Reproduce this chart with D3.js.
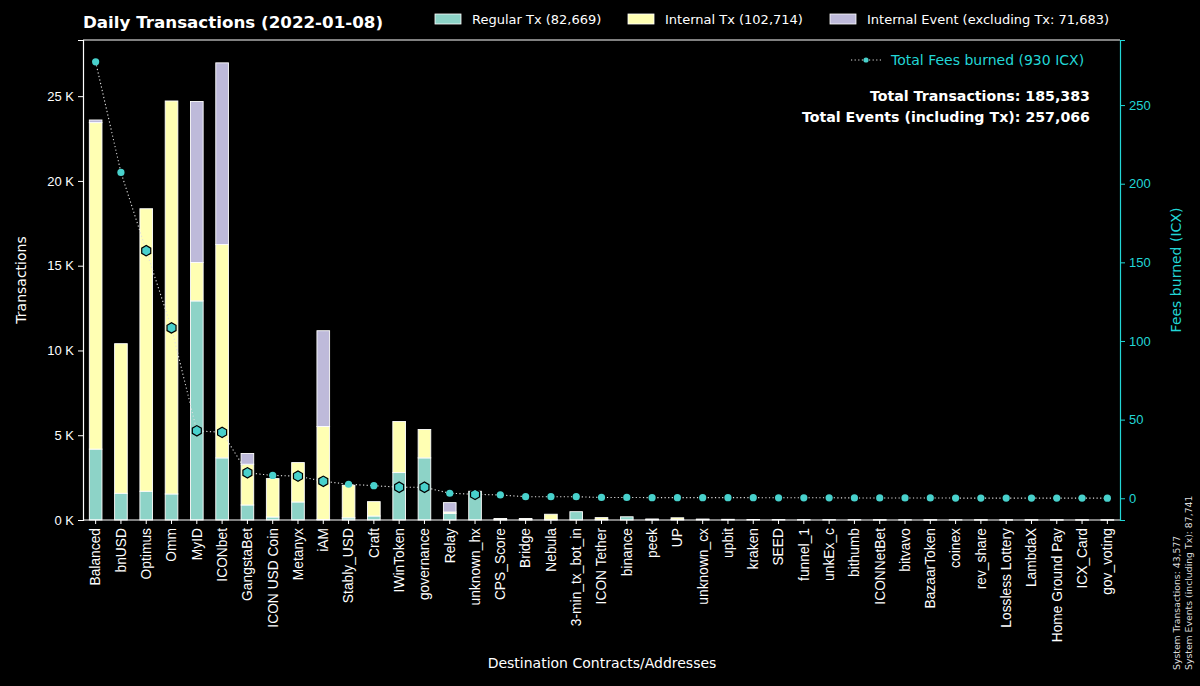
<!DOCTYPE html>
<html><head><meta charset="utf-8">
<script src="https://cdn.jsdelivr.net/npm/d3@7"></script>
<style>
html,body{margin:0;padding:0;background:#000;}
svg{display:block;font-family:"DejaVu Sans",sans-serif;}
</style></head>
<body>
<svg id="chart" width="1200" height="686"></svg>
<script>
const categories = ["Balanced","bnUSD","Optimus","Omm","MyID","ICONbet","GangstaBet","ICON USD Coin","Metanyx","iAM","Stably_USD","Craft","IWinToken","governance","Relay","unknown_hx","CPS_Score","Bridge","Nebula","3-min_tx_bot_in","ICON Tether","binance","peek","UP","unknown_cx","upbit","kraken","SEED","funnel_1","unkEx_c","bithumb","ICONNetBet","bitvavo","BazaarToken","coinex","rev_share","Lossless Lottery","LambdaX","Home Ground Pay","ICX_Card","gov_voting"];
const regularTx = [4180,1576,1695,1536,12923,3664,886,177,1064,30,130,236,2797,3664,394,1695,20,20,20,490,30,190,20,30,40,40,30,25,20,20,18,5,15,5,12,2,2,2,2,2,2];
const internalTx = [19260,8824,16665,23180,2265,12586,2404,2265,2323,5485,1920,847,3013,1673,80,0,70,70,320,0,110,0,40,100,10,0,0,0,0,0,0,10,0,8,0,10,8,8,6,5,4];
const internalEvent = [155,0,0,0,9495,10715,630,0,0,5650,0,0,0,0,550,0,0,0,0,0,0,0,0,0,0,0,0,0,0,0,0,0,0,0,0,0,0,0,0,0,0];
const feesBurned = [277.5,207.2,157.4,108.3,42.9,41.9,16.2,14.5,14.1,10.8,8.9,8.0,7.0,7.0,3.2,2.5,2.1,1.0,1.0,1.0,0.5,0.5,0.4,0.4,0.4,0.4,0.4,0.3,0.3,0.3,0.2,0.2,0.2,0.2,0.1,0.1,0.1,0.1,0.1,0.1,0.05];
const leftTicks = [0,5000,10000,15000,20000,25000];
const rightTicks = [0,50,100,150,200,250];
const legendLabels = ["Regular Tx (82,669)","Internal Tx (102,714)","Internal Event (excluding Tx: 71,683)"];
const titleText = "Daily Transactions (2022-01-08)";
const feeLegendText = "Total Fees burned (930 ICX)";
const totalsText = ["Total Transactions: 185,383","Total Events (including Tx): 257,066"];
const systemText = ["System Transactions: 43,577","System Events (including Tx): 87,741"];

const colors = ["#8dd3c7","#ffffb3","#bebada"];
const feeColor = "#48d1cc";
const axisCyan = "#22d6d6";

const svg = d3.select("#chart");
svg.append("rect").attr("width",1200).attr("height",686).attr("fill","#000");

const L=83, R=1120, T=40, B=520;

const x = d3.scaleBand().domain(categories).range([L,R]).paddingInner(0.5).paddingOuter(0.25);
const rows = categories.map((c,i)=>({cat:c, reg:regularTx[i], itx:internalTx[i], ev:internalEvent[i], fee:feesBurned[i]}));
const maxTotal = d3.max(rows, d=>d.reg+d.itx+d.ev);
const y = d3.scaleLinear().domain([0, maxTotal*1.05]).range([B,T]);
const fMax = d3.max(feesBurned), fMin = d3.min(feesBurned);
const fPad = (fMax - fMin)*0.05;
const y2 = d3.scaleLinear().domain([fMin - fPad, fMax + fPad]).range([B,T]);

// stacked bars
const stack = d3.stack().keys(["reg","itx","ev"])(rows);
const gBars = svg.append("g");
stack.forEach((layer,li)=>{
  gBars.selectAll(null).data(layer).enter().append("rect")
    .attr("x", d=>x(d.data.cat))
    .attr("width", x.bandwidth())
    .attr("y", d=>y(d[1]))
    .attr("height", d=>Math.max(0, y(d[0])-y(d[1])))
    .attr("fill", colors[li])
    .attr("stroke", "#fff")
    .attr("stroke-width", d=> (d[1]-d[0])>0 ? 0.9 : 0);
});

// frame
svg.append("line").attr("x1",L).attr("x2",R).attr("y1",T).attr("y2",T).attr("stroke","#fff").attr("stroke-width",1.2);
svg.append("line").attr("x1",L).attr("x2",R).attr("y1",B).attr("y2",B).attr("stroke","#fff").attr("stroke-width",1.2);

// left axis
const ax = svg.append("g").attr("transform",`translate(${L},0)`)
  .call(d3.axisLeft(y).tickValues(leftTicks).tickFormat(d=>(d/1000)+" K").tickSize(5).tickPadding(4));
ax.select(".domain").attr("stroke","#fff").attr("stroke-width",1.2);
ax.selectAll(".tick line").attr("stroke","#fff");
ax.selectAll("text").attr("fill","#fff").style("font-size","13px");

// right axis
const ax2 = svg.append("g").attr("transform",`translate(${R},0)`)
  .call(d3.axisRight(y2).tickValues(rightTicks).tickSize(5).tickPadding(4));
ax2.select(".domain").attr("stroke",axisCyan).attr("stroke-width",1.2);
ax2.selectAll(".tick line").attr("stroke",axisCyan);
ax2.selectAll("text").attr("fill",axisCyan).style("font-size","13px");

// bottom axis
const ax3 = svg.append("g").attr("transform",`translate(0,${B})`)
  .call(d3.axisBottom(x).tickSize(4).tickSizeOuter(0));
ax3.select(".domain").remove();
ax3.selectAll(".tick line").attr("stroke","#fff");
ax3.selectAll("text").attr("fill","#fff").style("font-size","13.8px")
  .attr("transform","rotate(-90)").attr("text-anchor","end")
  .attr("x",-8).attr("y",0).attr("dy","0.35em");

// fee line
const cx = d=>x(d.cat)+x.bandwidth()/2;
svg.append("path").datum(rows)
  .attr("d", d3.line().x(cx).y(d=>y2(d.fee)))
  .attr("fill","none").attr("stroke","#e0e0e0").attr("stroke-width",1.1).attr("stroke-dasharray","1.2,2.4");

function hexPath(r){
  const pts = d3.range(6).map(k=>{const a=Math.PI/2 + k*Math.PI/3; return [r*Math.cos(a), r*Math.sin(a)];});
  return d3.line()(pts)+"Z";
}
rows.forEach(d=>{
  const py = y2(d.fee);
  const top = y(d.reg+d.itx+d.ev);
  const inside = py > top + 1.5;
  if(inside){
    svg.append("path").attr("d",hexPath(5.2)).attr("transform",`translate(${cx(d)},${py})`)
      .attr("fill",feeColor).attr("stroke","#000").attr("stroke-width",1.2);
  } else {
    svg.append("circle").attr("cx",cx(d)).attr("cy",py).attr("r",3.6).attr("fill",feeColor);
  }
});

// title
svg.append("text").attr("x",83).attr("y",28).attr("fill","#fff").attr("font-weight","bold").style("font-size","16.7px").text(titleText);

// legend
const legX = [435,628,830];
legendLabels.forEach((t,i)=>{
  svg.append("rect").attr("x",legX[i]).attr("y",14).attr("width",26).attr("height",10).attr("fill",colors[i]).attr("stroke","#fff").attr("stroke-width",0.8);
  svg.append("text").attr("x",legX[i]+37).attr("y",23.5).attr("fill","#fff").style("font-size","13px").text(t);
});

// fee legend
svg.append("line").attr("x1",851).attr("x2",881).attr("y1",60).attr("y2",60).attr("stroke","#e0e0e0").attr("stroke-width",1.1).attr("stroke-dasharray","1.2,2.4");
svg.append("circle").attr("cx",866).attr("cy",60).attr("r",2.6).attr("fill",feeColor);
svg.append("text").attr("x",891).attr("y",65).attr("fill",axisCyan).style("font-size","14px").text(feeLegendText);

// totals
totalsText.forEach((t,i)=>{
  svg.append("text").attr("x",1090).attr("y",101+i*21).attr("text-anchor","end").attr("fill","#fff").attr("font-weight","bold").style("font-size","14.2px").text(t);
});

// axis titles
svg.append("text").attr("transform","translate(26,280) rotate(-90)").attr("text-anchor","middle").attr("fill","#fff").style("font-size","14px").text("Transactions");
svg.append("text").attr("transform","translate(1181,270) rotate(-90)").attr("text-anchor","middle").attr("fill",axisCyan).style("font-size","14px").text("Fees burned (ICX)");
svg.append("text").attr("x",602).attr("y",668).attr("text-anchor","middle").attr("fill","#fff").style("font-size","14px").text("Destination Contracts/Addresses");

// system notes
systemText.forEach((t,i)=>{
  svg.append("text").attr("transform",`translate(${1180+i*12},670) rotate(-90)`).attr("fill","#ddd").style("font-size","9.3px").text(t);
});
</script>
</body></html>
